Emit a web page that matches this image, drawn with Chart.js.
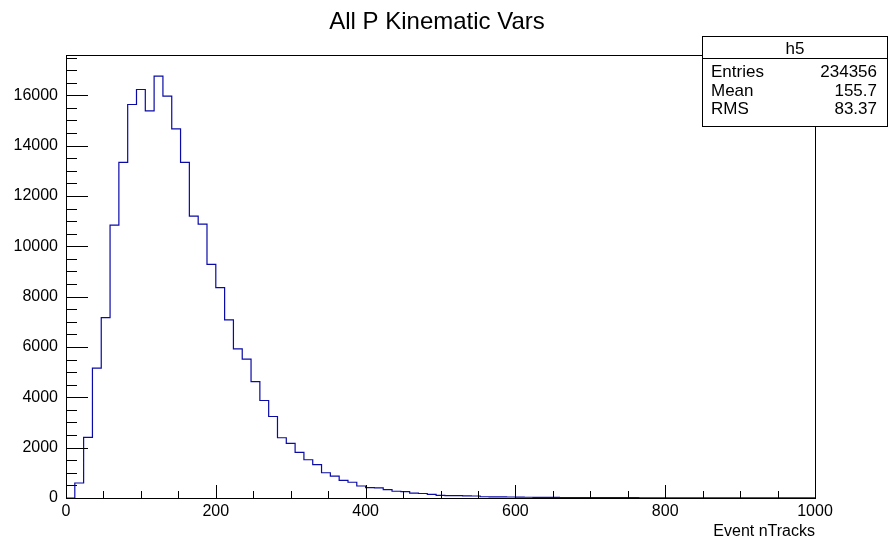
<!DOCTYPE html>
<html>
<head>
<meta charset="utf-8">
<script src="https://cdn.jsdelivr.net/npm/chart.js@4.4.1/dist/chart.umd.min.js"></script>
<style>
  html, body { margin: 0; padding: 0; background: #fff; }
  #wrap { width: 888px; height: 543px; }
</style>
</head>
<body>
<div id="wrap"><canvas id="histo"></canvas></div>
<script>
// histogram h5: 85 bins from 0 to 1000
const histTitle = 'All P Kinematic Vars';
const xAxisTitle = 'Event nTracks';
const binLow = 0;
const binHigh = 1000;
const binCounts = [
    0, 595, 2405, 5158, 7166, 10845, 13332, 15634, 16229, 15380,
    16757, 15963, 14666, 13332, 11202, 10884, 9285, 8357, 7075, 5924,
    5515, 4627, 3873, 3238, 2393, 2167, 1809, 1520, 1322, 1004,
    873, 698, 625, 476, 415, 400, 329, 268, 255, 190,
    178, 143, 108, 98, 95, 85, 80, 50, 45, 42,
    40, 35, 30, 28, 25, 22, 20, 18, 16, 15,
    14, 13, 12, 12, 11, 10, 10, 9, 9, 8,
    8, 7, 7, 6, 6, 6, 5, 5, 5, 4,
    4, 4, 3, 3, 3
];
const xTicks = [0, 200, 400, 600, 800, 1000];
const yTicks = [0, 2000, 4000, 6000, 8000, 10000, 12000, 14000, 16000];
const yMax = 17600;
const statLabels = ['Entries', 'Mean', 'RMS'];
const statValues = ['234356', '155.7', '83.37'];
const statName = 'h5';

const FONT = '"Liberation Sans", Arial, Helvetica, sans-serif';
const LINE = '#0a0aa8';

// each bin's low edge carries its count; the last point closes the top edge
const binWidth = (binHigh - binLow) / binCounts.length;
const points = binCounts.map((c, i) => ({ x: binLow + i * binWidth, y: c }));
points.push({ x: binHigh, y: binCounts[binCounts.length - 1] });

// frame, inner ticks, title, axis title and stats box
const rootStyle = {
    id: 'rootStyle',
    afterDraw(chart) {
        const ctx = chart.ctx;
        const a = chart.chartArea;
        const xs = chart.scales.x;
        const ys = chart.scales.y;
        ctx.save();
        ctx.strokeStyle = '#000';
        ctx.lineWidth = 1;

        // frame
        ctx.strokeRect(Math.round(a.left) + 0.5, Math.round(a.top) + 0.5,
            Math.round(a.right - a.left), Math.round(a.bottom - a.top));

        // x ticks, pointing up
        ctx.beginPath();
        for (let v = binLow; v <= binHigh; v += 50) {
            const px = Math.round(xs.getPixelForValue(v)) + 0.5;
            const len = v % 200 === 0 ? 13 : 7;
            ctx.moveTo(px, a.bottom);
            ctx.lineTo(px, a.bottom - len);
        }
        // y ticks, pointing right
        for (let v = 0; v <= yMax; v += 500) {
            const py = Math.round(ys.getPixelForValue(v)) + 0.5;
            const len = v % 2000 === 0 ? 22 : 11;
            ctx.moveTo(a.left, py);
            ctx.lineTo(a.left + len, py);
        }
        ctx.stroke();

        // title
        ctx.fillStyle = '#000';
        ctx.font = '24px ' + FONT;
        ctx.textAlign = 'center';
        ctx.textBaseline = 'alphabetic';
        ctx.fillText(histTitle, 437, 29);

        // x axis title
        ctx.font = '16px ' + FONT;
        ctx.textAlign = 'right';
        ctx.fillText(xAxisTitle, a.right, 536);

        // stats box
        const bx = 702, by = 36, bw = 186, bh = 90;
        ctx.fillStyle = '#fff';
        ctx.fillRect(bx, by, bw, bh);
        ctx.strokeRect(bx + 0.5, by + 0.5, bw - 1, bh);
        ctx.beginPath();
        ctx.moveTo(bx, by + 22.5);
        ctx.lineTo(bx + bw, by + 22.5);
        ctx.stroke();
        ctx.fillStyle = '#000';
        ctx.font = '17px ' + FONT;
        ctx.textAlign = 'center';
        ctx.fillText(statName, bx + bw / 2, by + 18);
        statLabels.forEach((lab, i) => {
            const base = by + 41 + i * 18.5;
            ctx.textAlign = 'left';
            ctx.fillText(lab, bx + 9, base);
            ctx.textAlign = 'right';
            ctx.fillText(statValues[i], bx + bw - 11, base);
        });
        ctx.restore();
    }
};

new Chart(document.getElementById('histo'), {
    type: 'line',
    data: {
        datasets: [{
            data: points,
            stepped: 'before',
            borderColor: LINE,
            borderWidth: 1.2,
            pointRadius: 0,
            fill: false
        }]
    },
    options: {
        responsive: true,
        maintainAspectRatio: false,
        animation: false,
        layout: { padding: { top: 55, right: 73, left: 0, bottom: 0 } },
        plugins: {
            legend: { display: false },
            tooltip: { enabled: false }
        },
        scales: {
            x: {
                type: 'linear',
                min: binLow,
                max: binHigh,
                afterFit: s => { s.height = 45; },
                afterBuildTicks: s => { s.ticks = xTicks.map(v => ({ value: v })); },
                grid: { display: false, drawTicks: false },
                border: { display: false },
                ticks: {
                    color: '#000',
                    padding: 4,
                    maxRotation: 0,
                    font: { family: FONT, size: 16 },
                    callback: v => String(v)
                }
            },
            y: {
                type: 'linear',
                min: 0,
                max: yMax,
                afterFit: s => { s.width = 66; },
                afterBuildTicks: s => { s.ticks = yTicks.map(v => ({ value: v })); },
                grid: { display: false, drawTicks: false },
                border: { display: false },
                ticks: {
                    color: '#000',
                    padding: 8,
                    font: { family: FONT, size: 16 },
                    callback: v => String(v)
                }
            }
        }
    },
    plugins: [rootStyle]
});
</script>
</body>
</html>
